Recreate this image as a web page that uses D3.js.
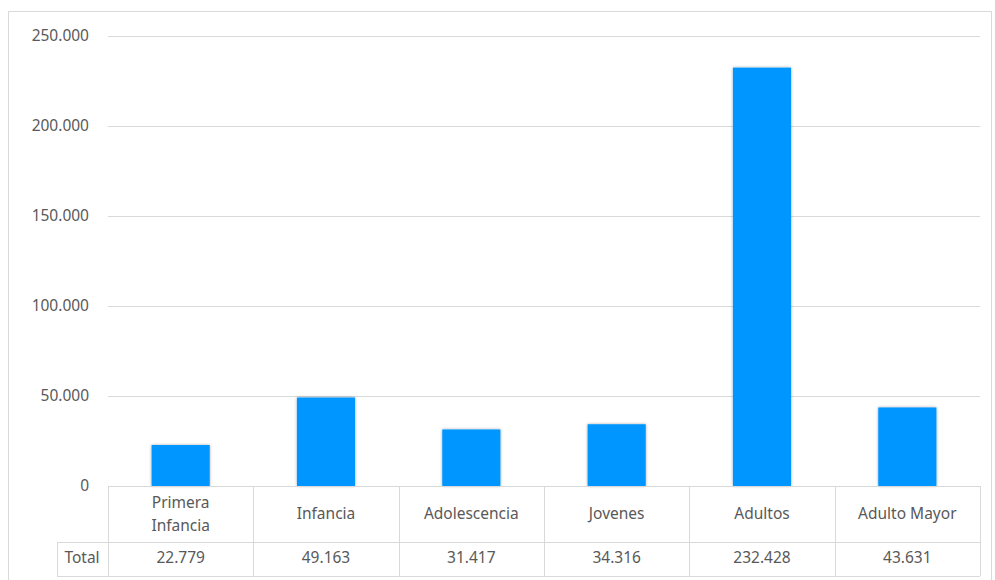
<!DOCTYPE html>
<html><head><meta charset="utf-8">
<script src="https://cdn.jsdelivr.net/npm/d3@7"></script>
<style>body{margin:0;background:#fff}svg{display:block}</style>
</head><body>
<script>
const categories = ["Primera Infancia","Infancia","Adolescencia","Jovenes","Adultos","Adulto Mayor"];
const categoryLines = [["Primera","Infancia"],["Infancia"],["Adolescencia"],["Jovenes"],["Adultos"],["Adulto Mayor"]];
const values = [22779,49163,31417,34316,232428,43631];
const valueLabels = ["22.779","49.163","31.417","34.316","232.428","43.631"];
const yTicks = [0,50000,100000,150000,200000,250000];
const yTickLabels = ["0","50.000","100.000","150.000","200.000","250.000"];
const seriesName = "Total";

const W=995,H=580;
const svg=d3.select("body").append("svg").attr("width",W).attr("height",H);
const font="'Noto Sans', 'Open Sans', sans-serif";
const fs=15.5;
const txt="#595959", grid="#d9d9d9";

svg.append("rect").attr("x",8.5).attr("y",11.5).attr("width",983).attr("height",600)
  .attr("fill","none").attr("stroke",grid);

const x0=108,x1=980,yTop=36,yBot=486;
const x=d3.scaleBand().domain(categories).range([x0,x1]).paddingInner(0.6).paddingOuter(0.3);
const xc=d3.scaleBand().domain(categories).range([x0,x1]);
const y=d3.scaleLinear().domain([0,250000]).range([yBot,yTop]);

const defs=svg.append("defs");
const f=defs.append("filter").attr("id","sh").attr("x","-20%").attr("y","-20%").attr("width","140%").attr("height","140%");
f.append("feDropShadow").attr("dx",0).attr("dy",0).attr("stdDeviation",1.5).attr("flood-color","#000").attr("flood-opacity",0.35);

svg.append("g").selectAll("line").data(yTicks.filter(d=>d>0)).join("line")
  .attr("x1",x0).attr("x2",x1).attr("y1",d=>Math.round(y(d))+0.5).attr("y2",d=>Math.round(y(d))+0.5)
  .attr("stroke",grid).attr("stroke-width",1);

svg.append("g").selectAll("text").data(yTicks).join("text")
  .attr("x",89).attr("y",d=>y(d)).attr("dy","0.35em").attr("text-anchor","end")
  .attr("font-family",font).attr("font-size",fs).attr("fill",txt)
  .text((d,i)=>yTickLabels[i]);

svg.append("g").selectAll("rect").data(values).join("rect")
  .attr("x",(d,i)=>x(categories[i])).attr("width",x.bandwidth())
  .attr("y",d=>y(d)).attr("height",d=>yBot-y(d))
  .attr("fill","#0096FF").attr("filter","url(#sh)");

const rowSep=542,tBot=576;
const tg=svg.append("g");
const bounds=categories.map(c=>xc(c)).concat([x1]);
tg.append("line").attr("x1",x0).attr("x2",x1).attr("y1",yBot+0.5).attr("y2",yBot+0.5).attr("stroke",grid);
tg.append("line").attr("x1",57).attr("x2",x1).attr("y1",rowSep+0.5).attr("y2",rowSep+0.5).attr("stroke",grid);
tg.append("line").attr("x1",57).attr("x2",x1).attr("y1",tBot+0.5).attr("y2",tBot+0.5).attr("stroke",grid);
tg.selectAll("line.v").data(bounds).join("line").attr("class","v")
  .attr("x1",d=>Math.round(d)+0.5).attr("x2",d=>Math.round(d)+0.5).attr("y1",yBot).attr("y2",tBot)
  .attr("stroke",grid);
tg.append("line").attr("x1",57.5).attr("x2",57.5).attr("y1",rowSep).attr("y2",tBot).attr("stroke",grid);

const cl=tg.selectAll("text.cat").data(categoryLines).join("text").attr("class","cat")
  .attr("text-anchor","middle").attr("font-family",font).attr("font-size",fs).attr("fill",txt);
cl.each(function(lines,i){
  const cx=xc(categories[i])+xc.bandwidth()/2;
  const mid=(yBot+rowSep)/2;
  const lh=23;
  const start=mid-(lines.length-1)*lh/2;
  d3.select(this).selectAll("tspan").data(lines).join("tspan")
    .attr("x",cx).attr("y",(d,j)=>start+j*lh).attr("dy","0.35em").text(d=>d);
});

tg.selectAll("text.val").data(valueLabels).join("text").attr("class","val")
  .attr("x",(d,i)=>xc(categories[i])+xc.bandwidth()/2).attr("y",(rowSep+tBot)/2-1).attr("dy","0.35em")
  .attr("text-anchor","middle").attr("font-family",font).attr("font-size",fs).attr("fill",txt)
  .text(d=>d);
tg.append("text").attr("x",82).attr("y",(rowSep+tBot)/2-1).attr("dy","0.35em").attr("text-anchor","middle")
  .attr("font-family",font).attr("font-size",fs).attr("fill",txt).text(seriesName);
</script>
</body></html>
